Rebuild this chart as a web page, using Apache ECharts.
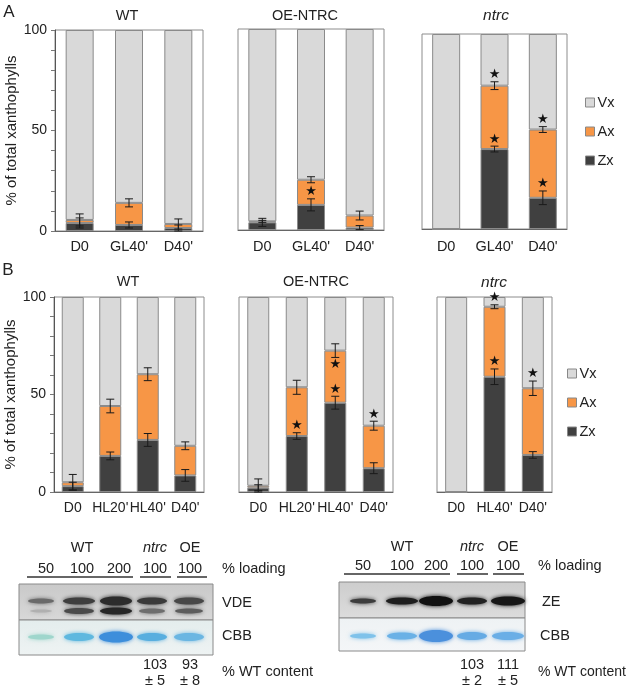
<!DOCTYPE html>
<html>
<head>
<meta charset="utf-8">
<script src="https://cdn.jsdelivr.net/npm/echarts@6/dist/echarts.min.js"></script>
<style>
html,body{margin:0;padding:0;background:#fff}
#chartmain{width:630px;height:689px}
</style>
</head>
<body>
<div id="chartmain"></div>
<script>
// categories
var catsA = ['D0', "GL40'", "D40'"];
var catsB = ['D0', "HL20'", "HL40'", "D40'"];
var catsBn = ['D0', "HL40'", "D40'"];

// panel A (% of total xanthophylls)
var wtA_Zx = [4, 3, 1.5],   wtA_Ax = [1.5, 11, 2],    wtA_Vx = [94.5, 86, 96.5];
var wtA_ZxErr = [2.5, 1.5, 1.5], wtA_TotErr = [3, 2, 2.5];
var wtA_Stars = [];

var oeA_Zx = [3.8, 12.5, 1.2], oeA_Ax = [0.5, 12.5, 6], oeA_Vx = [95.7, 75, 92.8];
var oeA_ZxErr = [2, 3, 1], oeA_TotErr = [0.5, 1.5, 2.2];
var oeA_Stars = [[1, 'z', 1]];

var ntA_Zx = [0, 41, 16], ntA_Ax = [0, 32.5, 35], ntA_Vx = [100, 26.5, 49];
var ntA_ZxErr = [0, 1.5, 3.5], ntA_TotErr = [0, 2, 1.5];
var ntA_Stars = [[1, 'z', 1], [1, 't', 1], [2, 'z', 1], [2, 't', 1]];

// panel B
var wtB_Zx = [3, 18.5, 26.7, 8.5], wtB_Ax = [2, 25.6, 33.7, 15.2], wtB_Vx = [95, 55.9, 39.6, 76.3];
var wtB_ZxErr = [2, 2, 3.3, 3], wtB_TotErr = [4, 3.5, 3.3, 2];
var wtB_Stars = [];

var oeB_Zx = [2.2, 28.7, 45.8, 12.2], oeB_Ax = [1, 25, 26.7, 21.8], oeB_Vx = [96.8, 46.3, 27.5, 66];
var oeB_ZxErr = [1.5, 1.7, 3.3, 2.8], oeB_TotErr = [3.5, 3.6, 3.5, 2.3];
var oeB_Stars = [[1, 'z', 1], [2, 'z', 1], [2, 't', -1], [3, 't', 1]];

var ntB_Zx = [0, 59.1, 19], ntB_Ax = [0, 35.9, 34.2], ntB_Vx = [100, 5, 46.8];
var ntB_ZxErr = [0, 4, 1.7], ntB_TotErr = [0, 1, 3.7];
var ntB_Stars = [[1, 't', 1], [1, 'z', 1], [2, 't', 1]];

var font = '"Liberation Sans", Arial, Helvetica, sans-serif';
var colVx = '#d9d9d9', colAx = '#f79646', colZx = '#404040';

var charts = [
    {cats: catsA, Zx: wtA_Zx, Ax: wtA_Ax, Vx: wtA_Vx, zErr: wtA_ZxErr, tErr: wtA_TotErr, stars: wtA_Stars,
     grid: {left: 55, top: 30, width: 148, height: 201}, bw: 28, yLab: true, lm: 8, fs: 14.5},
    {cats: catsA, Zx: oeA_Zx, Ax: oeA_Ax, Vx: oeA_Vx, zErr: oeA_ZxErr, tErr: oeA_TotErr, stars: oeA_Stars,
     grid: {left: 238, top: 29, width: 146, height: 201}, bw: 28, yLab: false, lm: 9, fs: 14.5},
    {cats: catsA, Zx: ntA_Zx, Ax: ntA_Ax, Vx: ntA_Vx, zErr: ntA_ZxErr, tErr: ntA_TotErr, stars: ntA_Stars,
     grid: {left: 422, top: 34, width: 145, height: 195}, bw: 28, yLab: false, lm: 10, fs: 14.5},
    {cats: catsB, Zx: wtB_Zx, Ax: wtB_Ax, Vx: wtB_Vx, zErr: wtB_ZxErr, tErr: wtB_TotErr, stars: wtB_Stars,
     grid: {left: 54, top: 297, width: 150, height: 195}, bw: 22, yLab: true, lm: 9, fs: 14},
    {cats: catsB, Zx: oeB_Zx, Ax: oeB_Ax, Vx: oeB_Vx, zErr: oeB_ZxErr, tErr: oeB_TotErr, stars: oeB_Stars,
     grid: {left: 239, top: 297, width: 154, height: 195}, bw: 22, yLab: false, lm: 9, fs: 14},
    {cats: catsBn, Zx: ntB_Zx, Ax: ntB_Ax, Vx: ntB_Vx, zErr: ntB_ZxErr, tErr: ntB_TotErr, stars: ntB_Stars,
     grid: {left: 437, top: 297, width: 115, height: 195}, bw: 22, yLab: false, lm: 9, fs: 14}
];

var grids = [], xAxes = [], yAxes = [], series = [];

charts.forEach(function (c, i) {
    grids.push({left: c.grid.left, top: c.grid.top, width: c.grid.width, height: c.grid.height,
        show: true, borderColor: '#8c8c8c', borderWidth: 1, backgroundColor: '#fff'});
    xAxes.push({
        type: 'category', gridIndex: i, data: c.cats,
        axisTick: {show: false},
        axisLine: {lineStyle: {color: '#666'}},
        axisLabel: {color: '#222', fontSize: c.fs, fontFamily: font, margin: c.lm, interval: 0}
    });
    yAxes.push({
        type: 'value', gridIndex: i, min: 0, max: 100, interval: 10,
        splitLine: {show: false},
        axisLine: {show: c.yLab, lineStyle: {color: '#555'}},
        axisTick: {show: c.yLab, length: 4, lineStyle: {color: '#777'}},
        axisLabel: {show: c.yLab, color: '#222', fontSize: 14, fontFamily: font, margin: 8,
            formatter: function (v) { return v % 50 === 0 ? v : ''; }},
        name: c.yLab ? '% of total xanthophylls' : '',
        nameLocation: 'middle', nameGap: 36,
        nameTextStyle: {fontSize: 15, color: '#222', fontFamily: font}
    });

    var bar = function (name, data, color) {
        return {
            name: name, type: 'bar', stack: 'st' + i, xAxisIndex: i, yAxisIndex: i,
            barWidth: c.bw, data: data,
            itemStyle: {color: color, borderColor: '#8a8a8a', borderWidth: 1},
            emphasis: {disabled: true}
        };
    };
    series.push(bar('Zx', c.Zx, colZx));
    series.push(bar('Ax', c.Ax, colAx));
    series.push(bar('Vx', c.Vx, colVx));

    // error bars at top of Zx and at top of Zx+Ax
    var err = [];
    c.cats.forEach(function (_, k) {
        if (c.zErr[k] > 0) err.push([k, Math.max(0, c.Zx[k] - c.zErr[k]), c.Zx[k] + c.zErr[k]]);
        var t = c.Zx[k] + c.Ax[k];
        if (c.tErr[k] > 0) err.push([k, Math.max(0, t - c.tErr[k]), Math.min(100, t + c.tErr[k])]);
    });
    series.push({
        type: 'custom', xAxisIndex: i, yAxisIndex: i, z: 5, silent: true,
        encode: {x: 0, y: [1, 2]},
        data: err,
        renderItem: function (params, api) {
            var k = api.value(0);
            var lo = api.coord([k, api.value(1)]);
            var hi = api.coord([k, api.value(2)]);
            var cw = 4;
            var st = {stroke: '#1a1a1a', lineWidth: 1};
            return {type: 'group', children: [
                {type: 'line', shape: {x1: lo[0], y1: lo[1], x2: hi[0], y2: hi[1]}, style: st},
                {type: 'line', shape: {x1: lo[0] - cw, y1: lo[1], x2: lo[0] + cw, y2: lo[1]}, style: st},
                {type: 'line', shape: {x1: hi[0] - cw, y1: hi[1], x2: hi[0] + cw, y2: hi[1]}, style: st}
            ]};
        }
    });

    // significance stars, placed just beyond the matching error bar
    var st = c.stars.map(function (s) {
        var k = s[0];
        var base = s[1] === 'z' ? c.Zx[k] : c.Zx[k] + c.Ax[k];
        var e = s[1] === 'z' ? c.zErr[k] : c.tErr[k];
        return [k, base + e * s[2], s[2]];
    });
    series.push({
        type: 'custom', xAxisIndex: i, yAxisIndex: i, z: 6, silent: true,
        encode: {x: 0, y: 1},
        data: st,
        renderItem: function (params, api) {
            var p = api.coord([api.value(0), api.value(1)]);
            return {type: 'text', x: p[0], y: p[1] - 7 * api.value(2),
                style: {text: '\u2605', fill: '#111', fontSize: 13, fontFamily: 'DejaVu Sans',
                    align: 'center', verticalAlign: 'middle'}};
        }
    });
});

// --- graphic: titles, panel letters, western blots ---
function txt(x, y, s, opt) {
    opt = opt || {};
    return {type: 'text', x: x, y: y, silent: true,
        style: {text: s, fill: '#222', fontSize: opt.size || 14.5, fontFamily: font,
            fontStyle: opt.italic ? 'italic' : 'normal',
            align: opt.align || 'center', verticalAlign: 'middle'}};
}
function hline(x1, x2, y) {
    return {type: 'line', silent: true, shape: {x1: x1, y1: y, x2: x2, y2: y},
        style: {stroke: '#333', lineWidth: 1.5}};
}
function band(cx, cy, rx, ry, color, blur) {
    return {type: 'ellipse', silent: true, shape: {cx: cx, cy: cy, rx: rx, ry: ry},
        style: {fill: color, shadowBlur: blur || 4, shadowColor: color}};
}
function panel(x, y, w, h, c1, c2) {
    return {type: 'rect', silent: true, shape: {x: x, y: y, width: w, height: h},
        style: {fill: new echarts.graphic.LinearGradient(0, 0, 0, 1, [
            {offset: 0, color: c1}, {offset: 1, color: c2}]), stroke: '#8a8a8a', lineWidth: 1}};
}

var g = [];
g.push(txt(9, 12, 'A', {size: 17}));
g.push(txt(8, 270, 'B', {size: 17}));
g.push(txt(127, 16, 'WT', {size: 14.5}));
g.push(txt(305, 16, 'OE-NTRC', {size: 14.5}));
g.push(txt(496, 16, 'ntrc', {size: 15.5, italic: true}));
g.push(txt(128, 282, 'WT', {size: 14.5}));
g.push(txt(316, 282, 'OE-NTRC', {size: 14.5}));
g.push(txt(494, 283, 'ntrc', {size: 15.5, italic: true}));

// left blot (VDE)
var laneL = [41, 79, 116, 152, 189];
g.push(txt(82, 548, 'WT'), txt(155, 548, 'ntrc', {italic: true}), txt(190, 548, 'OE'));
g.push(txt(46, 569, '50'), txt(82, 569, '100'), txt(119, 569, '200'), txt(155, 569, '100'), txt(190, 569, '100'));
g.push(hline(27, 133, 577), hline(140, 171, 577), hline(177, 207, 577));
g.push(txt(222, 569, '% loading', {align: 'left'}));
g.push(panel(19, 584, 194, 36, '#c9c9c9', '#d8d8d8'));
g.push(panel(19, 620, 194, 35, '#e4eded', '#eef3f3'));
g.push(band(laneL[0], 601, 13, 2.5, '#6a6a6a'), band(laneL[1], 601, 16, 3.5, '#3e3e3e'),
    band(laneL[2], 601, 16, 4.5, '#2c2c2c'), band(laneL[3], 601, 15, 3.5, '#3a3a3a'),
    band(laneL[4], 601, 15, 3.5, '#474747'));
g.push(band(laneL[0], 611, 11, 1.5, '#b0b0b0'), band(laneL[1], 611, 15, 3, '#4a4a4a'),
    band(laneL[2], 611, 16, 3.5, '#262626'), band(laneL[3], 611, 13, 2.5, '#6e6e6e'),
    band(laneL[4], 611, 14, 2.5, '#5c5c5c'));
g.push(band(laneL[0], 637, 13, 2.5, '#9fd6cc'), band(laneL[1], 637, 15, 4, '#5fb8df'),
    band(laneL[2], 637, 17, 5.5, '#3d8edb'), band(laneL[3], 637, 15, 4, '#58aedf'),
    band(laneL[4], 637, 15, 4, '#6bb6e2'));
g.push(txt(222, 603, 'VDE', {align: 'left'}), txt(222, 636, 'CBB', {align: 'left'}));
g.push(txt(155, 665, '103'), txt(155, 681, '\u00b1 5'), txt(190, 665, '93'), txt(190, 681, '\u00b1 8'));
g.push(txt(222, 672, '% WT content', {align: 'left'}));

// right blot (ZE)
var laneR = [363, 402, 436, 472, 508];
g.push(txt(402, 547, 'WT'), txt(472, 547, 'ntrc', {italic: true}), txt(508, 547, 'OE'));
g.push(txt(363, 566, '50'), txt(402, 566, '100'), txt(436, 566, '200'), txt(472, 566, '100'), txt(508, 566, '100'));
g.push(hline(344, 450, 574), hline(457, 488, 574), hline(493, 524, 574));
g.push(txt(538, 566, '% loading', {align: 'left'}));
g.push(panel(339, 582, 186, 36, '#cdcdcd', '#dcdcdc'));
g.push(panel(339, 618, 186, 33, '#eef2f4', '#f4f6f8'));
g.push(band(laneR[0], 601, 13, 2.5, '#3c3c3c'), band(laneR[1], 601, 16, 3.5, '#1e1e1e'),
    band(laneR[2], 601, 17, 5, '#111'), band(laneR[3], 601, 15, 3.5, '#222'),
    band(laneR[4], 601, 17, 4.5, '#161616'));
g.push(band(laneR[0], 636, 13, 2.5, '#7fc2ea'), band(laneR[1], 636, 15, 3.5, '#6ab1e6'),
    band(laneR[2], 636, 17, 6, '#4b90dc'), band(laneR[3], 636, 15, 4, '#66abe4'),
    band(laneR[4], 636, 16, 4, '#6aaee6'));
g.push(txt(542, 602, 'ZE', {align: 'left'}), txt(540, 636, 'CBB', {align: 'left'}));
g.push(txt(472, 665, '103'), txt(472, 681, '\u00b1 2'), txt(508, 665, '111'), txt(508, 681, '\u00b1 5'));
g.push(txt(538, 672, '% WT content', {align: 'left', size: 14}));

var legendBase = {
    data: ['Vx', 'Ax', 'Zx'], orient: 'vertical', icon: 'rect',
    itemWidth: 9, itemHeight: 9, itemGap: 14, selectedMode: false,
    itemStyle: {borderColor: '#888', borderWidth: 1},
    textStyle: {fontSize: 14.5, color: '#222', fontFamily: font, lineHeight: 14, padding: [0, 0, 0, -2]}
};

var option = {
    animation: false,
    backgroundColor: '#fff',
    legend: [
        Object.assign({left: 580, top: 90}, legendBase),
        Object.assign({left: 562, top: 361}, legendBase)
    ],
    grid: grids,
    xAxis: xAxes,
    yAxis: yAxes,
    series: series,
    graphic: g
};

var myChart = echarts.init(document.getElementById('chartmain'));
myChart.setOption(option);
</script>
</body>
</html>
